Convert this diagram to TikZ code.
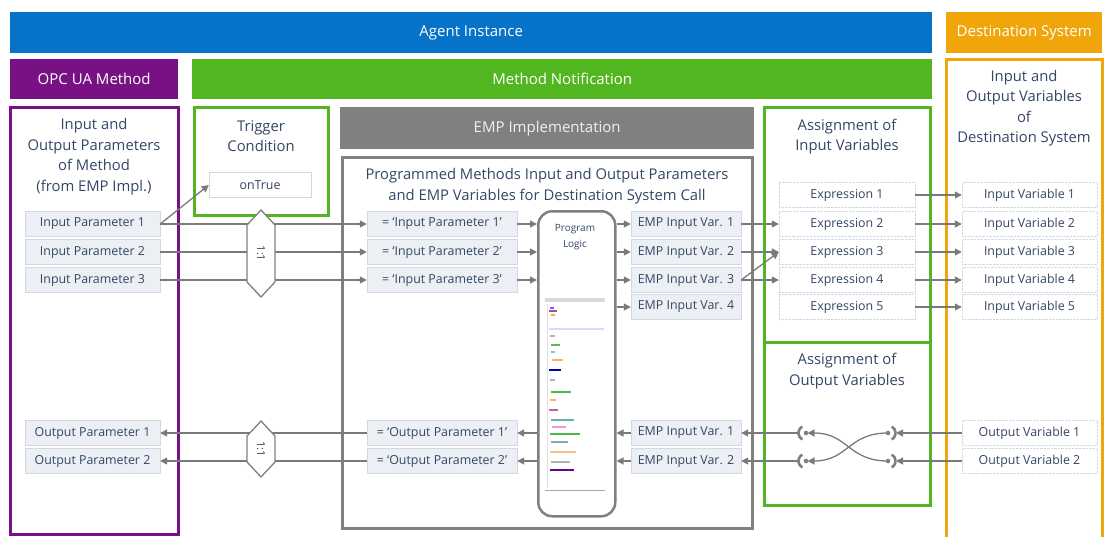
\documentclass[tikz,border=0pt]{standalone}
\usepackage{fontspec}
\setmainfont{Open Sans}
\usetikzlibrary{arrows.meta,calc}
\definecolor{cblue}{RGB}{6,115,200}
\definecolor{corange}{RGB}{240,166,10}
\definecolor{cpurple}{RGB}{120,18,132}
\definecolor{cgreen}{RGB}{82,182,32}
\definecolor{cgray}{RGB}{128,128,128}
\definecolor{ctext}{RGB}{52,70,100}
\definecolor{cfill}{RGB}{236,240,244}
\definecolor{cborder}{RGB}{208,216,228}
\definecolor{carrow}{RGB}{122,122,122}
\tikzset{
  bar/.style={fill=#1, draw=none, text=white, inner sep=0pt, anchor=north west, font=\fontsize{15}{17}\selectfont},
  frame/.style={draw=#1, line width=3pt},
  title/.style={text=ctext, align=center, font=\fontsize{14.8}{20.5}\selectfont},
  parbox/.style={draw=cborder, fill=cfill, text=ctext, minimum height=25pt, inner sep=0pt, font=\fontsize{12.4}{14}\selectfont, minimum width=#1},
  varbox/.style={draw=cborder, densely dotted, fill=white, text=ctext, minimum height=25pt, inner sep=0pt, font=\fontsize{12.4}{14}\selectfont, minimum width=#1},
  conn/.style={draw=carrow, line width=1.3pt, -{Triangle[length=7pt,width=7pt]}},
  hexa/.style={draw=cgray, line width=1.3pt, fill=white},
  sock/.style={draw=cgray, line width=2.6pt},
}
\begin{document}
\begin{tikzpicture}[x=1pt,y=-1pt]
\useasboundingbox (0,0) rectangle (1106,536);
% header bars
\node[bar=cblue, minimum width=922pt, minimum height=41pt] (agent) at (10,12) {Agent Instance};
\node[bar=corange, minimum width=156pt, minimum height=41pt] (dest) at (946,12) {Destination System};
\node[bar=cpurple, minimum width=168pt, minimum height=40pt] (opc) at (10,59) {OPC UA Method};
\node[bar=cgreen, minimum width=740pt, minimum height=40pt] (notif) at (192,59) {Method Notification};
\node[bar=cgray, minimum width=414pt, minimum height=42pt, text=white!88!gray] (empimpl) at (340,107) {EMP Implementation};
% frames
\draw[frame=cpurple] (10,107) rectangle (178,534);
\draw[frame=cgreen] (194,107) rectangle (328,215);
\draw[frame=cgray] (342,157) rectangle (752,528);
\draw[frame=cgreen] (764,107) rectangle (930,342);
\draw[frame=cgreen] (764,342) rectangle (930,505);
\draw[frame=corange] (946,537) -- (946,59) -- (1102,59) -- (1102,537);
% titles
\node[title] (t1) at (94,156.5) {Input and\\Output Parameters\\of Method\\(from EMP Impl.)};
\node[title] (t2) at (261,136) {Trigger\\Condition};
\node[title] (t3) at (547,186) {Programmed Methods Input and Output Parameters\\and EMP Variables for Destination System Call};
\node[title] (t4) at (847,136.5) {Assignment of\\Input Variables};
\node[title] (t5) at (847,371) {Assignment of\\Output Variables};
\node[title] (t6) at (1024,108) {Input and\\Output Variables\\of\\Destination System};
% boxes
\node[varbox=102pt, solid, draw=cborder] (ontrue) at (260,185) {onTrue};
\node[parbox=135pt] (ip1) at (92.5,224) {Input Parameter 1};
\node[parbox=135pt] (ip2) at (92.5,252) {Input Parameter 2};
\node[parbox=135pt] (ip3) at (92.5,280) {Input Parameter 3};
\node[parbox=135pt] (op1) at (92.5,433) {Output Parameter 1};
\node[parbox=135pt] (op2) at (92.5,461) {Output Parameter 2};
\node[parbox=150pt] (eip1) at (442,224) {= ‘Input Parameter 1’};
\node[parbox=150pt] (eip2) at (442,252) {= ‘Input Parameter 2’};
\node[parbox=150pt] (eip3) at (442,280) {= ‘Input Parameter 3’};
\node[parbox=150pt] (eop1) at (442,433) {= ‘Output Parameter 1’};
\node[parbox=150pt] (eop2) at (442,461) {= ‘Output Parameter 2’};
\node[draw=cgray, line width=2.5pt, rounded corners=14pt, minimum width=77pt, minimum height=305pt, anchor=north west] (logic) at (537,210) {};
\node[text=ctext, align=center, font=\fontsize{10}{16}\selectfont] (lt) at (575,237) {Program\\Logic};
\node[parbox=110pt] (v1) at (686,224) {EMP Input Var. 1};
\node[parbox=110pt] (v2) at (686,252) {EMP Input Var. 2};
\node[parbox=110pt] (v3) at (686,280) {EMP Input Var. 3};
\node[parbox=110pt] (v4) at (686,307) {EMP Input Var. 4};
\node[parbox=110pt] (bv1) at (686,433) {EMP Input Var. 1};
\node[parbox=110pt] (bv2) at (686,461) {EMP Input Var. 2};
\foreach \i/\y in {1/195,2/224,3/252,4/280,5/307}{
  \node[varbox=136pt] (ex\i) at (847,\y) {Expression \i};
  \node[varbox=135pt] (iv\i) at (1029.5,\y) {Input Variable \i};
}
\node[varbox=135pt] (ov1) at (1029.5,433) {Output Variable 1};
\node[varbox=135pt] (ov2) at (1029.5,461) {Output Variable 2};
% code screenshot inside program logic
\fill[white] (545,298) rectangle (605,490);
\fill[gray!30] (545,298) rectangle (605,302);
\draw[gray!70, line width=0.6pt] (545,490) -- (605,490);
\draw[gray!25, line width=0.4pt] (547,304) -- (547,488);
\foreach \y/\a/\b/\c in {308/550/554/blue!60,311/549/557/violet!70,315/551/555/orange!70,
  329/549/604/blue!15,336/550/555/gray!60,345/551/560/green!50!black!60,352/551/555/cyan!60,
  360/552/563/orange!60,370/549/561/blue!70!black,380/550/555/gray!60,392/551/571/green!60!black!70,
  400/550/556/orange!60,410/549/558/violet!60,420/551/574/teal!60,427/552/566/magenta!40,
  434/550/580/green!60!black!70,442/551/568/cyan!50!black!60,452/550/576/orange!50,
  462/551/570/gray!60,470/550/574/violet!80!blue}{
  \draw[\c, line width=1.1pt] (\a,\y) -- (\b,\y);
}
% input connectors
\draw[conn] (ip1.east) -- (ontrue.west);
\foreach \i in {1,2,3}{
  \draw[conn] (ip\i.east) -- (eip\i.west);
  \draw[conn] (eip\i.east) -- (logic.west |- eip\i.east);
  \draw[conn] (logic.east |- v\i.west) -- (v\i.west);
}
\draw[conn] (logic.east |- v4.west) -- (v4.west);
\draw[conn] (v1.east) -- (ex2.west);
\draw[conn] (v2.east) -- (ex3.west);
\draw[conn] (v3.east) -- (ex3.west);
\draw[conn] (v3.east) -- (ex4.west);
\foreach \i in {1,...,5}{
  \draw[conn] (ex\i.east) -- (iv\i.west);
}
% output connectors
\coordinate (rs1) at (888,433);
\coordinate (rs2) at (888,461);
\coordinate (ls1) at (806,433);
\coordinate (ls2) at (806,461);
\draw[conn] (ov1.west) -- ([xshift=8pt]rs1);
\draw[conn] (ov2.west) -- ([xshift=8pt]rs2);
\draw[conn] (rs1) .. controls (848,433) and (848,461) .. ([xshift=1.5pt]ls2);
\draw[conn] (rs2) .. controls (848,461) and (848,433) .. ([xshift=1.5pt]ls1);
\foreach \s in {rs1,rs2}{
  \fill[cgray] (\s) circle (2.3pt);
  \draw[sock] ($(\s)+(-60:7.5pt)$) arc[start angle=-60, end angle=60, radius=7.5pt];
}
\foreach \s in {ls1,ls2}{
  \fill[cgray] (\s) circle (2.3pt);
  \draw[sock] ($(\s)+(120:7.5pt)$) arc[start angle=120, end angle=240, radius=7.5pt];
}
\draw[conn] ([xshift=-8pt]ls1) -- (bv1.east);
\draw[conn] ([xshift=-8pt]ls2) -- (bv2.east);
\foreach \i in {1,2}{
  \draw[conn] (bv\i.west) -- (logic.east |- bv\i.west);
  \draw[conn] (logic.west |- eop\i.east) -- (eop\i.east);
  \draw[conn] (eop\i.west) -- (op\i.east);
}
% 1:1 hexagons
\draw[hexa] (261,210) -- (275,225) -- (275,282) -- (261,297) -- (247,282) -- (247,225) -- cycle;
\node[rotate=-90, text=ctext, font=\fontsize{11}{12}\selectfont] (h1) at (261,253.5) {1:1};
\draw[hexa] (261,421) -- (275,436) -- (275,462) -- (261,477) -- (247,462) -- (247,436) -- cycle;
\node[rotate=-90, text=ctext, font=\fontsize{11}{12}\selectfont] (h2) at (261,449) {1:1};
\end{tikzpicture}
\end{document}
